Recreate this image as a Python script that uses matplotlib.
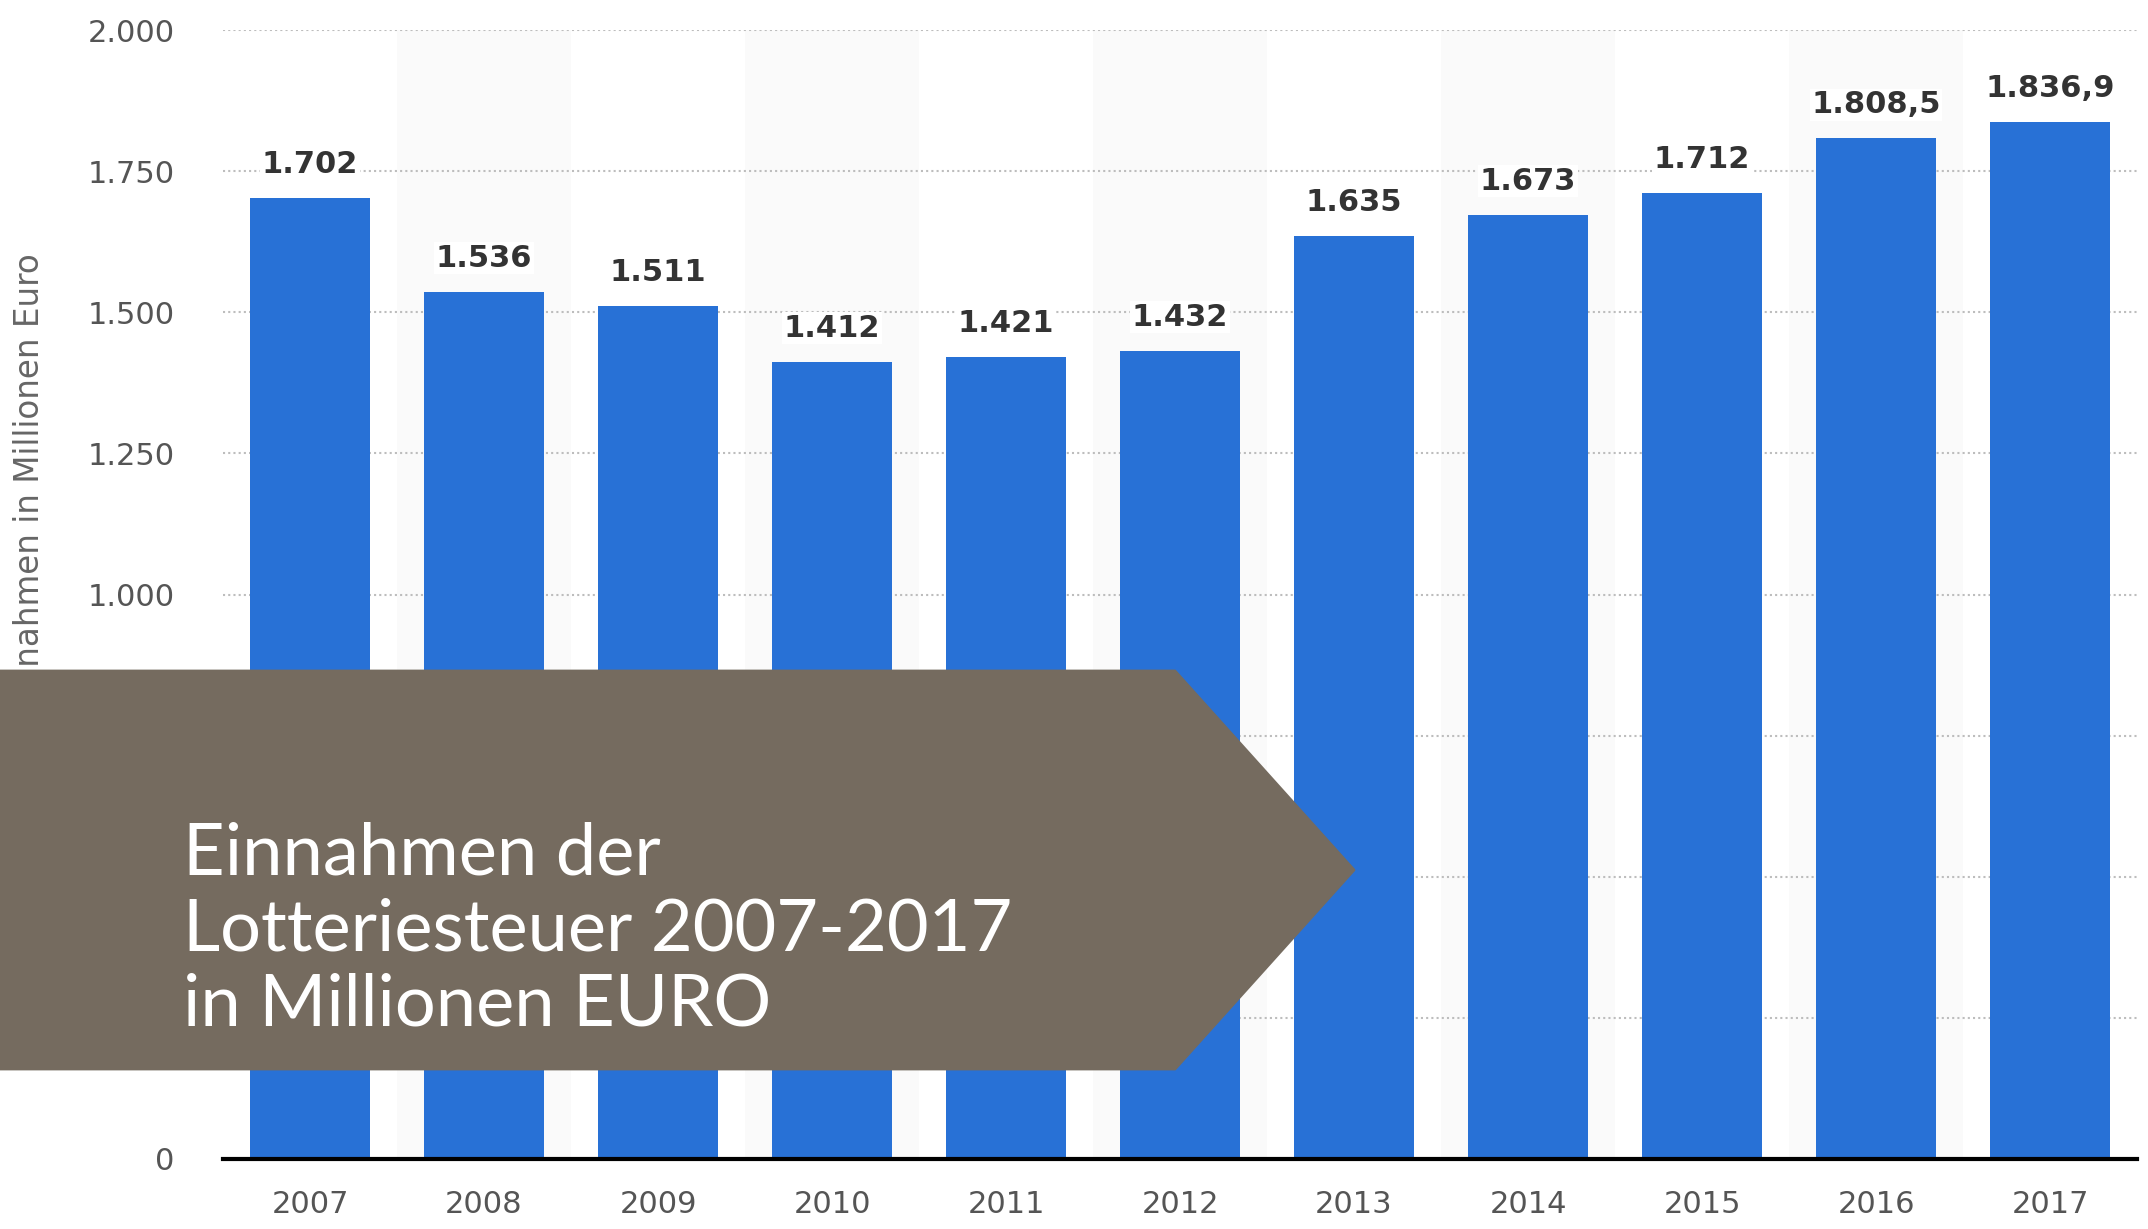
import matplotlib.pyplot as plt
from matplotlib.patches import Polygon

# data (Einnahmen der Lotteriesteuer, Mio. Euro)
years = ["2007", "2008", "2009", "2010", "2011", "2012", "2013", "2014", "2015", "2016", "2017"]
values = [1702, 1536, 1511, 1412, 1421, 1432, 1635, 1673, 1712, 1808.5, 1836.9]
yticks = [0, 250, 500, 750, 1000, 1250, 1500, 1750, 2000]

title_lines = ["Einnahmen der", "Lotteriesteuer 2007-2017", "in Millionen EURO"]
ylabel = "Einnahmen in Millionen Euro"


def de_format(v):
    # german style: 1.808,5 / 1.702
    if v == int(v):
        s = f"{int(v):,}"
    else:
        s = f"{v:,.1f}"
    return s.replace(",", "X").replace(".", ",").replace("X", ".")


W, H = 2148, 1229
fig = plt.figure(figsize=(W / 100, H / 100), dpi=100)
ax = fig.add_axes([223 / W, 70 / H, (2137 - 223) / W, (1159 - 30) / H])

x = list(range(len(years)))

# faint alternating column bands
for i in x:
    if i % 2 == 1:
        ax.axvspan(i - 0.5, i + 0.5, color="#fafafa", zorder=0, lw=0)

ax.bar(x, values, width=0.69, color="#2871d6", zorder=2)

for i, v in zip(x, values):
    ax.annotate(de_format(v), (i, v), xytext=(0, 18), textcoords="offset points",
                ha="center", va="baseline", fontsize=22, fontweight="bold", color="#333333",
                bbox=dict(fc="white", ec="none", pad=1), zorder=3)

ax.set_xlim(-0.5, 10.5)
ax.set_ylim(0, 2000)
ax.set_yticks(yticks)
ax.set_yticklabels([de_format(t) for t in yticks])
ax.set_xticks(x)
ax.set_xticklabels(years)
ax.tick_params(axis="y", length=0, pad=35, labelsize=22, labelcolor="#555555")
ax.tick_params(axis="x", length=0, pad=22, labelsize=22, labelcolor="#555555")

ax.grid(axis="y", color="#bdbdbd", linestyle=(0, (1, 1.5)), linewidth=1.5, zorder=1)
ax.set_axisbelow(True)
for side in ["top", "right", "left"]:
    ax.spines[side].set_visible(False)
ax.spines["bottom"].set_color("black")
ax.spines["bottom"].set_linewidth(3)
ax.spines["bottom"].set_zorder(4)

# y label, its start is hidden behind the banner like in the original
fig.text(30 / W, 1 - 485 / H, ylabel, rotation=90, ha="center", va="center",
         fontsize=23.5, color="#666666")

# brown arrow banner over the chart
pts = [(0, 671), (1175, 671), (1354, 870), (1175, 1069), (0, 1069)]
pts = [(px / W, 1 - py / H) for px, py in pts]
banner = Polygon(pts, closed=True, transform=fig.transFigure, facecolor="#756b5f",
                 edgecolor="#756b5f", linewidth=2, joinstyle="round", zorder=10)
fig.patches.append(banner)

# baseline of a multi-line text = baseline of the last line
fig.text(183 / W, 1 - 1026 / H, "\n".join(title_lines), ha="left", va="baseline",
         fontsize=52, color="white", family=["Lato", "DejaVu Sans"],
         linespacing=1.2, zorder=11)

fig.savefig("out.png", dpi=100)
